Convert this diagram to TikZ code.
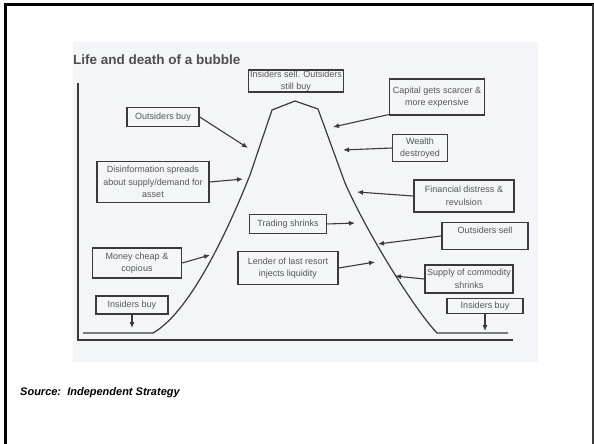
\documentclass[tikz,border=0pt]{standalone}
\usepackage{fontspec}
\setmainfont{Liberation Sans}
\usepackage{xcolor}
\usetikzlibrary{arrows.meta}
\definecolor{ink}{HTML}{3A3A3A}
\definecolor{paper}{HTML}{F3F5F9}

\begin{document}
\begin{tikzpicture}[x=1pt, y=-1pt,
        box/.style={draw=ink, line width=1.5pt, fill=paper, align=center, text=ink!85,
            font=\fontsize{9}{12.5}\selectfont, inner sep=0.5pt},
        arr/.style={draw=ink, line width=1.1pt, -{Latex[length=6pt, width=5pt]}}]
        \useasboundingbox (0, 0) rectangle (594, 444);
        \fill[paper] (73, 42) rectangle (538, 362);
        \draw[line width=3pt] (5.5, 444) -- (5.5, 4.5) -- (594, 4.5);
        \draw[line width=1.5pt, ink] (593, 4.5) -- (593, 444);

        \node[anchor=west, inner sep=0, text=ink!90, font=\bfseries\fontsize{13.5}{16}\selectfont] (title) at (73, 60) {Life and death of a bubble};
        \node[anchor=west, inner sep=0, font=\bfseries\itshape\fontsize{11}{13}\selectfont] (src) at (20, 393) {Source:\ \ Independent Strategy};

        \draw[ink, line width=1.2pt] (78, 83) -- (78, 340) -- (513, 340);
        \draw[ink, line width=1.2pt] (83, 333) -- (153, 333) .. controls (185, 315) and (220, 250) .. (250, 175)
            -- (272, 110) -- (295, 101) -- (318, 109) -- (345, 183) .. controls (368, 235) and (415, 310) .. (437, 333) -- (508, 333);

        \node[box, minimum width=95pt, minimum height=21pt] (isell) at (296, 81) {Insiders sell. Outsiders\\still buy};
        \node[box, minimum width=95pt, minimum height=36pt] (cap) at (437, 97) {Capital gets scarcer \&\\more expensive};
        \node[box, minimum width=55pt, minimum height=27pt] (wd) at (420, 148) {Wealth\\destroyed};
        \node[box, minimum width=100pt, minimum height=32pt] (fd) at (464, 196) {Financial distress \&\\revulsion};
        \node[box, minimum width=86pt, minimum height=27pt] (os) at (485, 236) {Outsiders sell\\~};
        \node[box, minimum width=88pt, minimum height=28pt] (sc) at (469, 279) {Supply of commodity\\shrinks};
        \node[box, minimum width=76pt, minimum height=15pt] (ibr) at (485, 306) {Insiders buy};
        \node[box, minimum width=77pt, minimum height=19pt] (ts) at (288, 224) {Trading shrinks};
        \node[box, minimum width=100pt, minimum height=33pt] (ll) at (288, 268) {Lender of last resort\\injects liquidity};
        \node[box, minimum width=89pt, minimum height=30pt] (mc) at (137, 263) {Money cheap \&\\copious};
        \node[box, minimum width=72pt, minimum height=18pt] (ibl) at (132, 305) {Insiders buy};
        \node[box, minimum width=112pt, minimum height=41pt] (dis) at (153, 182) {Disinformation spreads\\about supply/demand for\\asset};
        \node[box, minimum width=72pt, minimum height=19pt] (ob) at (163, 117) {Outsiders buy};

        \coordinate (obt) at (248, 148);
        \coordinate (dist) at (243, 179);
        \coordinate (mct) at (210, 255);
        \coordinate (iblt) at (132, 328);
        \coordinate (tst) at (355, 223);
        \coordinate (llt) at (375, 262);
        \coordinate (capt) at (333, 127);
        \coordinate (wdt) at (343, 150);
        \coordinate (fdt) at (357, 192);
        \coordinate (ost) at (378, 244);
        \coordinate (sct) at (395, 276);
        \coordinate (ibrt) at (485, 331);

        \draw[arr] (ob.east) -- (obt);
        \draw[arr] (dis.east) -- (dist);
        \draw[arr] (mc.east) -- (mct);
        \draw[arr] (ibl.south) -- (iblt);
        \draw[arr] (ts.east) -- (tst);
        \draw[arr] (ll.east) -- (llt);
        \draw[arr] (cap.200) -- (capt);
        \draw[arr] (wd.west) -- (wdt);
        \draw[arr] (fd.west) -- (fdt);
        \draw[arr] (os.west) -- (ost);
        \draw[arr] (sc.west) -- (sct);
        \draw[arr] (ibr.south) -- (ibrt);
\end{tikzpicture}
\end{document}
